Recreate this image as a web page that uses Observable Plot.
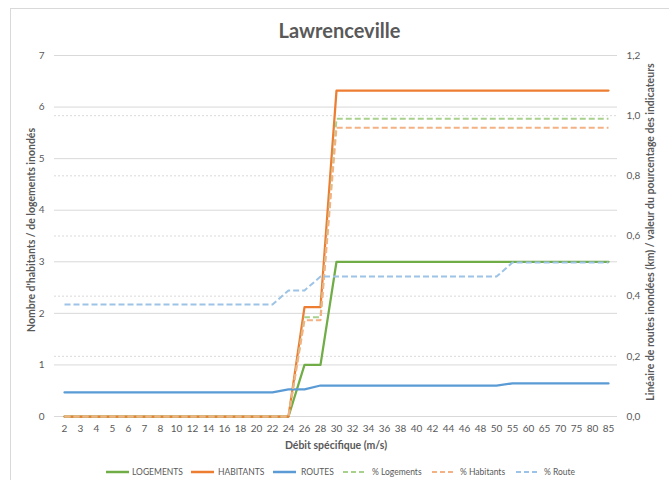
<!DOCTYPE html>
<html><head><meta charset="utf-8">
<script src="https://cdn.jsdelivr.net/npm/d3@7"></script>
<script src="https://cdn.jsdelivr.net/npm/@observablehq/plot@0.6"></script>
<style>
body{margin:0;background:#fff;font-family:Lato,"Open Sans",sans-serif;}
#wrap{position:relative;width:669px;height:480px;overflow:hidden;background:#fff;}
#frame{position:absolute;left:10px;top:8px;width:700px;height:520px;border:1px solid #d9d9d9;box-sizing:border-box;}
#title{position:absolute;top:20px;left:5px;width:669px;text-align:center;font-size:20px;line-height:20px;font-weight:bold;color:#595959;}
#chart{position:absolute;left:0;top:40px;}
.lg{position:absolute;top:466px;height:12px;display:flex;align-items:center;font-size:8.5px;color:#595959;white-space:nowrap;}
</style>
</head><body>
<div id="wrap">
<div id="frame"></div>
<div id="title">Lawrenceville</div>
<div id="chart"></div>
<div id="legend"></div>
</div>
<script>
const categories = [2,3,4,5,6,7,8,10,12,14,16,18,20,22,24,26,28,30,32,34,36,38,40,42,44,46,48,50,55,60,65,70,75,80,85];
const logements   = [0,0,0,0,0,0,0,0,0,0,0,0,0,0,0,1,1,3,3,3,3,3,3,3,3,3,3,3,3,3,3,3,3,3,3];
const habitants   = [0,0,0,0,0,0,0,0,0,0,0,0,0,0,0,2.12,2.12,6.32,6.32,6.32,6.32,6.32,6.32,6.32,6.32,6.32,6.32,6.32,6.32,6.32,6.32,6.32,6.32,6.32,6.32];
const routes      = [0.08,0.08,0.08,0.08,0.08,0.08,0.08,0.08,0.08,0.08,0.08,0.08,0.08,0.08,0.09,0.09,0.103,0.103,0.103,0.103,0.103,0.103,0.103,0.103,0.103,0.103,0.103,0.103,0.11,0.11,0.11,0.11,0.11,0.11,0.11];
const pctLogements= [0,0,0,0,0,0,0,0,0,0,0,0,0,0,0,0.33,0.33,0.99,0.99,0.99,0.99,0.99,0.99,0.99,0.99,0.99,0.99,0.99,0.99,0.99,0.99,0.99,0.99,0.99,0.99];
const pctHabitants= [0,0,0,0,0,0,0,0,0,0,0,0,0,0,0,0.32,0.32,0.96,0.96,0.96,0.96,0.96,0.96,0.96,0.96,0.96,0.96,0.96,0.96,0.96,0.96,0.96,0.96,0.96,0.96];
const pctRoute    = [0.372,0.372,0.372,0.372,0.372,0.372,0.372,0.372,0.372,0.372,0.372,0.372,0.372,0.372,0.419,0.419,0.465,0.465,0.465,0.465,0.465,0.465,0.465,0.465,0.465,0.465,0.465,0.465,0.512,0.512,0.512,0.512,0.512,0.512,0.512];
const leftTicks = [0,1,2,3,4,5,6,7];
const rightTicks = [0,0.2,0.4,0.6,0.8,1.0,1.2];
const seriesNames = ["LOGEMENTS","HABITANTS","ROUTES","% Logements","% Habitants","% Route"];

const LEFT_MAX = 7, RIGHT_MAX = 1.2;
const toLeft = v => v * LEFT_MAX / RIGHT_MAX;

const series = [
  {name: seriesNames[0], values: logements,    right:false, color:"#70AD47", dash:null},
  {name: seriesNames[1], values: habitants,    right:false, color:"#ED7D31", dash:null},
  {name: seriesNames[2], values: routes,       right:true,  color:"#5B9BD5", dash:null},
  {name: seriesNames[3], values: pctLogements, right:true,  color:"#A9D18E", dash:"6,3"},
  {name: seriesNames[4], values: pctHabitants, right:true,  color:"#F4B183", dash:"6,3"},
  {name: seriesNames[5], values: pctRoute,     right:true,  color:"#9DC3E6", dash:"6,3"}
];

const rows = s => s.values.map((v,i) => ({x: categories[i], y: s.right ? toLeft(v) : v}));

const marks = [
  Plot.ruleY(rightTicks.slice(1).map(toLeft), {stroke:"#d9d9d9", strokeWidth:1, strokeDasharray:"2,2"}),
  Plot.ruleY(leftTicks, {stroke:"#d9d9d9", strokeWidth:1}),
  Plot.axisX({tickSize:0, tickPadding:8, fontSize:10, color:"#595959", label:null}),
  Plot.axisY(leftTicks, {anchor:"left", tickSize:0, tickPadding:10, fontSize:10, color:"#595959", label:null,
    tickFormat: d => String(Math.round(d))}),
  Plot.axisY(rightTicks.map(toLeft), {anchor:"right", tickSize:0, tickPadding:9, fontSize:10, color:"#595959", label:null,
    tickFormat: d => (d*RIGHT_MAX/LEFT_MAX).toFixed(1).replace(".", ",")}),
  ...series.map(s => Plot.line(rows(s), {x:"x", y:"y", stroke:s.color, strokeWidth: s.dash ? 2 : 2.25,
      strokeDasharray: s.dash || undefined, strokeLinejoin:"round", strokeLinecap: s.dash ? "butt" : "round"})),
  Plot.text(["Débit spécifique (m/s)"], {frameAnchor:"bottom", dy:32, fontSize:10.5, fontWeight:"bold", fill:"#595959"}),
  Plot.text(["Nombre d'habitants / de logements inondés"], {frameAnchor:"left", textAnchor:"middle", dx:-23, dy:-6, rotate:-90, fontSize:10.5, fontWeight:"bold", fill:"#595959"}),
  Plot.text(["Linéaire de routes inondées (km) / valeur du pourcentage des indicateurs"], {frameAnchor:"right", textAnchor:"middle", dx:33, dy:-4, rotate:-90, fontSize:10.5, fontWeight:"bold", fill:"#595959"})
];

const chart = Plot.plot({
  width: 669, height: 418,
  marginLeft: 54, marginRight: 52, marginTop: 15, marginBottom: 42,
  style: {fontFamily: "Lato, 'Open Sans', sans-serif", background: "transparent"},
  x: {type:"point", domain: categories, padding: 0.5},
  y: {domain: [0, LEFT_MAX]},
  marks
});
document.getElementById("chart").appendChild(chart);

const legendPos = [[106,132],[191,218],[273,301],[343,372],[432,460],[516,544]];
const legend = document.getElementById("legend");
series.forEach((s,i) => {
  const d = document.createElement("div");
  d.className = "lg";
  d.style.left = legendPos[i][0] + "px";
  d.innerHTML = `<svg width="23" height="4" style="margin-right:${legendPos[i][1]-legendPos[i][0]-23}px"><line x1="0" y1="2" x2="23" y2="2" stroke="${s.color}" stroke-width="${s.dash?2:2.5}" ${s.dash?'stroke-dasharray="5,3"':''}/></svg><span>${s.name}</span>`;
  legend.appendChild(d);
});
</script>
</body></html>
